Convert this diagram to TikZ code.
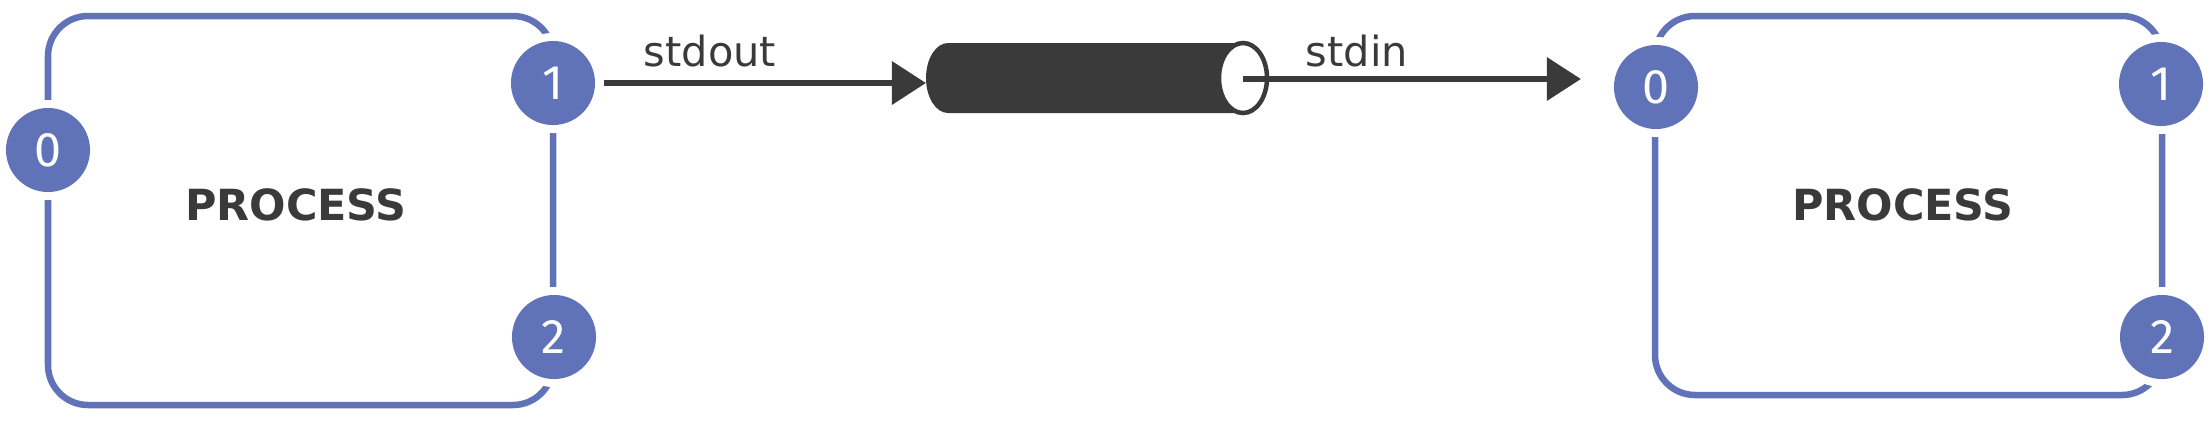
\documentclass[tikz,border=0pt]{standalone}
\usepackage{fontspec}
\setmainfont{DejaVu Sans}
\newfontfamily\digitfont{Fira Sans}
\usetikzlibrary{arrows.meta}
\definecolor{pblue}{HTML}{6073B8}
\definecolor{pdark}{HTML}{3A3A3A}
\tikzset{
  boxline/.style={draw=pblue, line width=0.065cm, rounded corners=0.4cm},
  port/.style={circle, fill=pblue, minimum size=0.84cm, inner sep=0pt, outer sep=0.09cm,
    text=white, font=\digitfont\fontsize{13.8}{13.8}\selectfont,
    preaction={draw=white, line width=0.16cm}},
  proc/.style={text=pdark, font=\bfseries\fontsize{12.2}{12.2}\selectfont},
  lbl/.style={text=pdark, anchor=base, font=\fontsize{11.8}{11.8}\selectfont},
  conn/.style={draw=pdark, line width=0.065cm, -{Triangle[length=0.34cm, width=0.42cm]}}
}
\begin{document}
\begin{tikzpicture}[x=0.01cm, y=-0.01cm]
\useasboundingbox (0,0) rectangle (2212,420);
% boxes
\draw[boxline] (48,16) rectangle (553,405);
\draw[boxline] (1655,16) rectangle (2162,395);
\node[proc] (p1) at (296,205) {PROCESS};
\node[proc] (p2) at (1903,205) {PROCESS};
% ports
\node[port] (l0) at (48,150) {0};
\node[port] (l1) at (553,83) {1};
\node[port] (l2) at (554,337) {2};
\node[port] (r0) at (1656,87) {0};
\node[port] (r1) at (2161,84) {1};
\node[port] (r2) at (2162,337) {2};
% pipe
\fill[pdark] (948,43) arc[start angle=-90, end angle=-270, x radius=22, y radius=35]
  -- (1243,113) -- (1243,43) -- cycle;
\draw[pdark, fill=white, line width=0.045cm] (1243,78) ellipse[x radius=24, y radius=35];
\coordinate (pin) at (926,83);
\coordinate (pout) at (1243,79);
% connectors
\draw[conn] (l1) -- (pin);
\draw[conn, shorten >=0.24cm] (pout) -- (pout -| r0.west);
\node[lbl] (so) at (710,66) {stdout};
\node[lbl] (si) at (1357,66) {stdin};
\end{tikzpicture}
\end{document}
